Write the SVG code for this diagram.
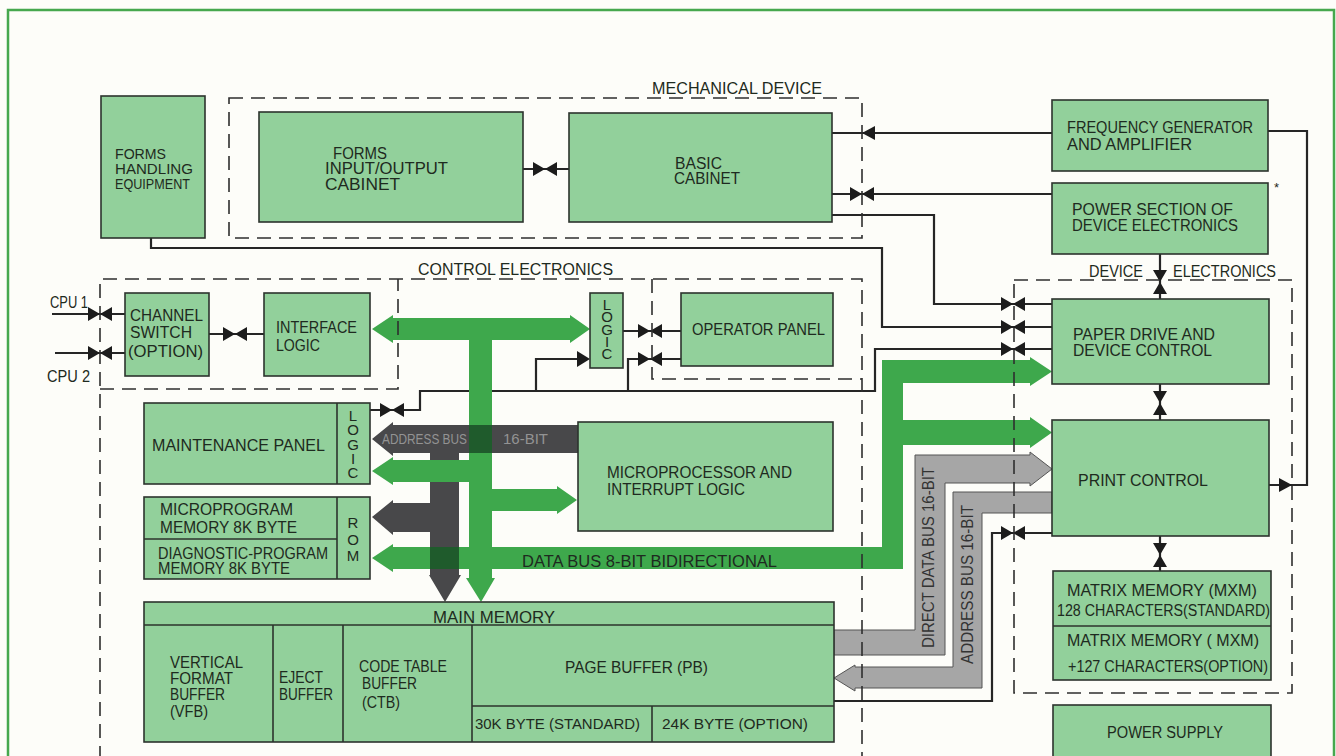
<svg xmlns="http://www.w3.org/2000/svg" width="1336" height="756" viewBox="0 0 1336 756">
<style>
.box{fill:#92d09b;stroke:#2c332d;stroke-width:1.6}
.div{fill:none;stroke:#2c332d;stroke-width:1.6}
.t{font-family:"Liberation Sans",Arial,sans-serif;font-size:16px;fill:#1e2a20}
.s{font-size:15px}
.v{font-family:"Liberation Sans",Arial,sans-serif;font-size:15px;fill:#1e2a20;writing-mode:vertical-rl;text-orientation:upright}
.dash{fill:none;stroke:#2e2e2e;stroke-width:1.6;stroke-dasharray:14 8}
.ln{fill:none;stroke:#262626;stroke-width:2.2}
.bg{fill:#3ea84c}
.bd{fill:#48484a}
.bl{fill:#a6a6a6;stroke:#555;stroke-width:1}
.ov{fill:#1f5b2c}
.mk{fill:#1c1c1c}
</style>
<defs>
<path id="bt" class="mk" d="M-12,-7 L0,0 L-12,7 Z M12,-7 L0,0 L12,7 Z"/>
<path id="ah" class="mk" d="M0,0 L13,-7 L13,7 Z"/>
</defs>
<rect x="0" y="0" width="1336" height="756" fill="#fdfdf9"/>
<rect x="8" y="10" width="1326" height="760" fill="none" stroke="#46a84e" stroke-width="2.5"/>

<g id="connectors">
  <g id="lines">
    <polyline class="ln" points="523,169 569,169"/>
    <polyline class="ln" points="832,133 1052,133"/>
    <polyline class="ln" points="832,194 1052,194"/>
    <polyline class="ln" points="832,215 934,215 934,304 1052,304"/>
    <polyline class="ln" points="151,238 151,248 882,248 882,327 1052,327"/>
    <polyline class="ln" points="370,410 420,410 420,391 875,391 875,349 1052,349"/>
    <polyline class="ln" points="536,391 536,359 580,359"/>
    <polyline class="ln" points="628,391 628,359 681,359"/>
    <polyline class="ln" points="623,331 681,331"/>
    <polyline class="ln" points="52,314 125,314"/>
    <polyline class="ln" points="55,353 125,353"/>
    <polyline class="ln" points="209,334 264,334"/>
    <polyline class="ln" points="1268,131 1307,131 1307,485 1269,485"/>
    <polyline class="ln" points="1160,254 1160,299"/>
    <polyline class="ln" points="1160,384 1160,420"/>
    <polyline class="ln" points="1160,536 1160,571"/>
    <polyline class="ln" points="834,701 992,701 992,533 1052,533"/>
  </g>
  <g id="buses">
    <path class="bd" d="M372,439 L393,422 L393,425 L578,425 L578,453 L459,453 L459,575 L461,575 L445,602 L429,575 L430,575 L430,532 L393,532 L393,535 L372,517 L393,500 L393,503 L430,503 L430,453 L393,453 L393,456 Z"/>
    <path class="bg" d="M372,329 L393,315 L393,318 L570,318 L570,315 L590,329 L570,343 L570,340 L492,340 L492,489 L557,489 L557,486 L577,500 L557,514 L557,511 L492,511 L492,547 L882,547 L882,360 L1030,360 L1030,357 L1052,371.5 L1030,386 L1030,383 L903,383 L903,420 L1030,420 L1030,417 L1052,432.5 L1030,448 L1030,445 L903,445 L903,569 L492,569 L492,578 L495,578 L481,602 L466,578 L469,578 L469,569 L393,569 L393,572 L372,558 L393,544 L393,547 L469,547 L469,482 L393,482 L393,485 L372,471 L393,457 L393,460 L469,460 L469,340 L393,340 L393,343 Z"/>
    <rect class="ov" x="469" y="425" width="23" height="28"/>
    <rect class="ov" x="430" y="547" width="29" height="22"/>
    <path class="bl" d="M834,630 H915 V455 H1030 V452 L1052,469 L1030,486 V483 H945 V655 H834 Z"/>
    <path class="bl" d="M1052,492 V513 H982 V688 H855 V691 L834,678 L855,665 V667 H953 V492 Z"/>
    <text class="t s" x="382" y="444" textLength="85" lengthAdjust="spacingAndGlyphs" style="fill:#939393">ADDRESS BUS</text>
    <text class="t s" x="503" y="444" textLength="45" lengthAdjust="spacingAndGlyphs" style="fill:#939393">16-BIT</text>
    <text class="t" x="522" y="567" textLength="255" lengthAdjust="spacingAndGlyphs">DATA BUS 8-BIT  BIDIRECTIONAL</text>
    <text class="t" transform="translate(934,648) rotate(-90)" textLength="181" lengthAdjust="spacingAndGlyphs" style="fill:#333">DIRECT DATA BUS 16-BIT</text>
    <text class="t" transform="translate(973,664) rotate(-90)" textLength="159" lengthAdjust="spacingAndGlyphs" style="fill:#333">ADDRESS BUS 16-BIT</text>
  </g>
  <g id="markers">
    <use href="#bt" x="545" y="169"/>
    <use href="#ah" x="862" y="133"/>
    <use href="#bt" x="862" y="194"/>
    <use href="#bt" x="1013" y="304"/>
    <use href="#bt" x="1013" y="327"/>
    <use href="#bt" x="1013" y="349"/>
    <use href="#bt" x="392" y="410"/>
    <path class="mk" d="M577,351 L590,359 L577,367 Z"/>
    <use href="#bt" x="650" y="359"/>
    <use href="#bt" x="650" y="331"/>
    <use href="#bt" x="100" y="314"/>
    <use href="#bt" x="100" y="353"/>
    <use href="#bt" x="235" y="334"/>
    <path class="mk" d="M1292,485 L1279,478 L1279,492 Z"/>
    <use href="#bt" transform="translate(1160,282) rotate(90)"/>
    <use href="#bt" transform="translate(1160,403) rotate(90)"/>
    <use href="#bt" transform="translate(1160,555) rotate(90)"/>
    <use href="#bt" x="1013" y="533"/>
  </g>
</g>

<g id="groups">
  <rect class="dash" x="229" y="98" width="633" height="140"/>
  <text class="t" x="652" y="94" textLength="170" lengthAdjust="spacingAndGlyphs">MECHANICAL DEVICE</text>
  <path class="dash" d="M100,760 V279 H862 V760 M100,389 H398 V279 M652,279 V379 H862"/>
  <text class="t" x="418" y="275" textLength="195" lengthAdjust="spacingAndGlyphs">CONTROL ELECTRONICS</text>
  <rect class="dash" x="1014" y="280" width="278" height="413"/>
  <text class="t" x="1089" y="277" textLength="54" lengthAdjust="spacingAndGlyphs">DEVICE</text>
  <text class="t" x="1173" y="277" textLength="103" lengthAdjust="spacingAndGlyphs">ELECTRONICS</text>
</g>

<g id="forms_handling">
  <rect class="box" x="101" y="96" width="104" height="142"/>
  <text class="t s" x="115" y="159" textLength="51" lengthAdjust="spacingAndGlyphs">FORMS</text>
  <text class="t s" x="115" y="174" textLength="78" lengthAdjust="spacingAndGlyphs">HANDLING</text>
  <text class="t s" x="115" y="189" textLength="75" lengthAdjust="spacingAndGlyphs">EQUIPMENT</text>
</g>
<g id="forms_io">
  <rect class="box" x="259" y="112" width="264" height="110"/>
  <text class="t" x="333" y="159" textLength="54" lengthAdjust="spacingAndGlyphs">FORMS</text>
  <text class="t" x="325" y="174" textLength="123" lengthAdjust="spacingAndGlyphs">INPUT/OUTPUT</text>
  <text class="t" x="325" y="190" textLength="75" lengthAdjust="spacingAndGlyphs">CABINET</text>
</g>
<g id="basic_cabinet">
  <rect class="box" x="569" y="113" width="263" height="109"/>
  <text class="t" x="675" y="169" textLength="47" lengthAdjust="spacingAndGlyphs">BASIC</text>
  <text class="t" x="674" y="184" textLength="66" lengthAdjust="spacingAndGlyphs">CABINET</text>
</g>
<g id="freq_gen">
  <rect class="box" x="1052" y="100" width="216" height="71"/>
  <text class="t" x="1067" y="133" textLength="186" lengthAdjust="spacingAndGlyphs">FREQUENCY  GENERATOR</text>
  <text class="t" x="1067" y="150" textLength="125" lengthAdjust="spacingAndGlyphs">AND  AMPLIFIER</text>
</g>
<g id="power_section">
  <rect class="box" x="1052" y="183" width="216" height="71"/>
  <text class="t" x="1072" y="215" textLength="161" lengthAdjust="spacingAndGlyphs">POWER SECTION OF</text>
  <text class="t" x="1072" y="231" textLength="166" lengthAdjust="spacingAndGlyphs">DEVICE ELECTRONICS</text>
  <text class="t" x="1274" y="192" style="font-size:13px">*</text>
</g>
<g id="paper_drive">
  <rect class="box" x="1052" y="299" width="217" height="85"/>
  <text class="t" x="1073" y="340" textLength="142" lengthAdjust="spacingAndGlyphs">PAPER DRIVE AND</text>
  <text class="t" x="1073" y="356" textLength="139" lengthAdjust="spacingAndGlyphs">DEVICE CONTROL</text>
</g>
<g id="print_control">
  <rect class="box" x="1052" y="420" width="217" height="116"/>
  <text class="t" x="1078" y="486" textLength="130" lengthAdjust="spacingAndGlyphs">PRINT  CONTROL</text>
</g>
<g id="matrix_memory">
  <rect class="box" x="1053" y="571" width="218" height="109"/>
  <line class="div" x1="1053" y1="626" x2="1271" y2="626"/>
  <text class="t" x="1067" y="596" textLength="190" lengthAdjust="spacingAndGlyphs">MATRIX  MEMORY (MXM)</text>
  <text class="t" x="1057" y="616" textLength="213" lengthAdjust="spacingAndGlyphs">128 CHARACTERS(STANDARD)</text>
  <text class="t" x="1067" y="646" textLength="192" lengthAdjust="spacingAndGlyphs">MATRIX  MEMORY ( MXM)</text>
  <text class="t" x="1068" y="672" textLength="200" lengthAdjust="spacingAndGlyphs">+127 CHARACTERS(OPTION)</text>
</g>
<g id="power_supply">
  <rect class="box" x="1053" y="705" width="218" height="65"/>
  <text class="t" x="1107" y="738" textLength="116" lengthAdjust="spacingAndGlyphs">POWER  SUPPLY</text>
</g>
<g id="cpu_labels">
  <text class="t" x="50" y="308" textLength="38" lengthAdjust="spacingAndGlyphs">CPU 1</text>
  <text class="t" x="47" y="382" textLength="43" lengthAdjust="spacingAndGlyphs">CPU 2</text>
</g>
<g id="channel_switch">
  <rect class="box" x="125" y="293" width="84" height="83"/>
  <text class="t" x="130" y="321" textLength="73" lengthAdjust="spacingAndGlyphs">CHANNEL</text>
  <text class="t" x="130" y="338" textLength="62" lengthAdjust="spacingAndGlyphs">SWITCH</text>
  <text class="t" x="128" y="357" textLength="75" lengthAdjust="spacingAndGlyphs">(OPTION)</text>
</g>
<g id="interface_logic">
  <rect class="box" x="264" y="293" width="106" height="83"/>
  <text class="t" x="276" y="333" textLength="81" lengthAdjust="spacingAndGlyphs">INTERFACE</text>
  <text class="t" x="276" y="351" textLength="44" lengthAdjust="spacingAndGlyphs">LOGIC</text>
</g>
<g id="panel_logic">
  <rect class="box" x="590" y="293" width="33" height="75"/>
  <text class="v" x="607" y="296" textLength="66" lengthAdjust="spacing">LOGIC</text>
</g>
<g id="operator_panel">
  <rect class="box" x="681" y="293" width="152" height="73"/>
  <text class="t" x="692" y="335" textLength="133" lengthAdjust="spacingAndGlyphs">OPERATOR  PANEL</text>
</g>
<g id="maintenance_panel">
  <rect class="box" x="144" y="403" width="226" height="81"/>
  <line class="div" x1="337" y1="403" x2="337" y2="484"/>
  <text class="t" x="152" y="451" textLength="173" lengthAdjust="spacingAndGlyphs">MAINTENANCE  PANEL</text>
  <text class="v" x="353" y="407" textLength="74" lengthAdjust="spacing">LOGIC</text>
</g>
<g id="program_memory">
  <rect class="box" x="144" y="497" width="226" height="82"/>
  <line class="div" x1="144" y1="539" x2="337" y2="539"/>
  <line class="div" x1="337" y1="497" x2="337" y2="579"/>
  <text class="t" x="160" y="515" textLength="133" lengthAdjust="spacingAndGlyphs">MICROPROGRAM</text>
  <text class="t" x="160" y="533" textLength="137" lengthAdjust="spacingAndGlyphs">MEMORY 8K BYTE</text>
  <text class="t" x="158" y="559" textLength="170" lengthAdjust="spacingAndGlyphs">DIAGNOSTIC-PROGRAM</text>
  <text class="t" x="158" y="574" textLength="132" lengthAdjust="spacingAndGlyphs">MEMORY 8K BYTE</text>
  <text class="v" x="353" y="514" textLength="50" lengthAdjust="spacing">ROM</text>
</g>
<g id="microprocessor">
  <rect class="box" x="578" y="422" width="255" height="109"/>
  <text class="t" x="607" y="478" textLength="185" lengthAdjust="spacingAndGlyphs">MICROPROCESSOR AND</text>
  <text class="t" x="607" y="495" textLength="138" lengthAdjust="spacingAndGlyphs">INTERRUPT LOGIC</text>
</g>
<g id="main_memory">
  <rect class="box" x="144" y="602" width="690" height="140"/>
  <path class="div" d="M144,625 H834 M273,625 V742 M343,625 V742 M472,625 V742 M472,706 H834 M652,706 V742"/>
  <text class="t" x="433" y="623" textLength="122" lengthAdjust="spacingAndGlyphs">MAIN  MEMORY</text>
  <text class="t" x="170" y="668" textLength="73" lengthAdjust="spacingAndGlyphs">VERTICAL</text>
  <text class="t" x="170" y="684" textLength="63" lengthAdjust="spacingAndGlyphs">FORMAT</text>
  <text class="t" x="170" y="700" textLength="55" lengthAdjust="spacingAndGlyphs">BUFFER</text>
  <text class="t" x="170" y="717" textLength="38" lengthAdjust="spacingAndGlyphs">(VFB)</text>
  <text class="t" x="279" y="683" textLength="44" lengthAdjust="spacingAndGlyphs">EJECT</text>
  <text class="t" x="279" y="700" textLength="54" lengthAdjust="spacingAndGlyphs">BUFFER</text>
  <text class="t" x="359" y="672" textLength="88" lengthAdjust="spacingAndGlyphs">CODE TABLE</text>
  <text class="t" x="362" y="689" textLength="55" lengthAdjust="spacingAndGlyphs">BUFFER</text>
  <text class="t" x="362" y="708" textLength="38" lengthAdjust="spacingAndGlyphs">(CTB)</text>
  <text class="t" x="565" y="673" textLength="143" lengthAdjust="spacingAndGlyphs">PAGE  BUFFER (PB)</text>
  <text class="t s" x="475" y="729" textLength="165" lengthAdjust="spacingAndGlyphs">30K BYTE (STANDARD)</text>
  <text class="t s" x="662" y="729" textLength="146" lengthAdjust="spacingAndGlyphs">24K BYTE (OPTION)</text>
</g>
</svg>
